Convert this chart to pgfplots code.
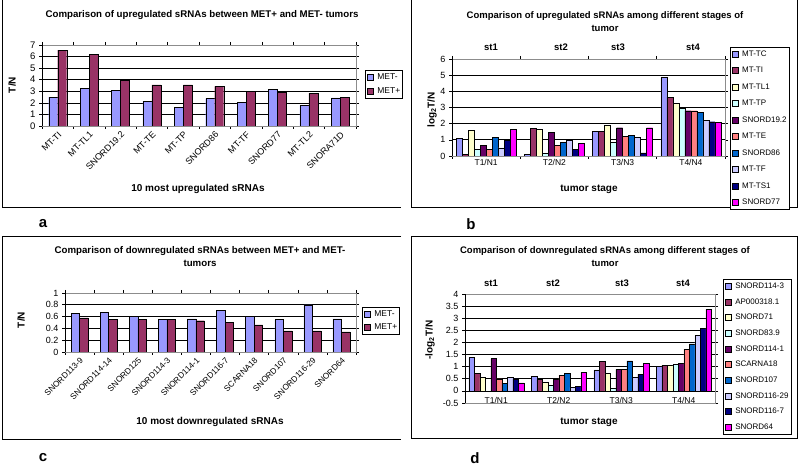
\documentclass[border=0pt]{standalone}
\usepackage{fontspec}
\setmainfont{Liberation Sans}
\usepackage{pgfplots}
\pgfplotsset{compat=1.18}

\definecolor{c1}{HTML}{9999FF}
\definecolor{c2}{HTML}{993366}
\definecolor{c3}{HTML}{FFFFCC}
\definecolor{c4}{HTML}{CCFFFF}
\definecolor{c5}{HTML}{660066}
\definecolor{c6}{HTML}{FF8080}
\definecolor{c7}{HTML}{0066CC}
\definecolor{c8}{HTML}{CCCCFF}
\definecolor{c9}{HTML}{000080}
\definecolor{c10}{HTML}{FF00FF}

\newcommand{\fsz}[1]{\fontsize{#1}{#1}\selectfont}

\pgfplotsset{
  excel/.style={
    scale only axis,
    anchor=south west,
    ybar=0pt,
    axis line style={black!45, line width=0.6pt},
    ymajorgrids,
    grid style={black, line width=0.7pt},
    tick align=outside,
    major tick length=3pt,
    tick style={black, line width=0.6pt},
    /pgf/number format/assume math mode=true,
    legend cell align=left,
    legend image code/.code={\draw[#1, draw=black, line width=0.4pt] (0pt,-3pt) rectangle (6pt,3pt);},
    every axis plot/.append style={draw=black, line width=0.4pt},
    legend style={draw=black, line width=0.7pt, fill=white, inner xsep=1.5pt, inner ysep=2pt,
      nodes={inner sep=1pt, text height=6pt, text depth=1.5pt},
      /tikz/every odd column/.append style={column sep=3pt}},
  }
}

\begin{document}
\begin{tikzpicture}
\useasboundingbox (0pt,0pt) rectangle (800pt,465pt);
\fill[white] (0pt,0pt) rectangle (800pt,465pt);
% frames
\draw[line width=0.8pt] (2pt,467pt) -- (2pt,258pt) -- (401pt,258pt);
\draw[line width=0.8pt] (411pt,467pt) -- (411pt,258pt) -- (797pt,258pt) -- (797pt,467pt);
\draw[line width=0.8pt] (401pt,229pt) -- (2pt,229pt) -- (2pt,26pt) -- (401pt,26pt);
\draw[line width=0.8pt] (411pt,229pt) rectangle (797pt,27pt);

% ---------------- Panel a ----------------
\begin{axis}[excel, at={(42pt,339pt)}, width=314pt, height=81pt,
  xmin=-0.5, xmax=9.5, ymin=0, ymax=7, ytick={0,1,...,7},
  bar width=9pt,
  xtick={-0.5,0.5,...,9.5}, xticklabels={},
  extra x ticks={0,1,...,9},
  extra x tick labels={MT-TI,MT-TL1,SNORD19.2,MT-TE,MT-TP,SNORD86,MT-TF,SNORD77,MT-TL2,SNORA71D},
  extra x tick style={major tick length=0pt, ticklabel style={rotate=45, anchor=north east, font=\fsz{9}}},
  yticklabel style={font=\fsz{9.5}},
  legend style={at={(1.029,0.691)}, anchor=north west, font=\fsz{8.5}, row sep=5pt},
]
\addplot[fill=c1] coordinates {(0,2.5) (1,3.26) (2,3.08) (3,2.12) (4,1.6) (5,2.36) (6,2.04) (7,3.17) (8,1.78) (9,2.44)};
\addplot[fill=c2] coordinates {(0,6.55) (1,6.17) (2,3.95) (3,3.56) (4,3.56) (5,3.42) (6,3.0) (7,2.91) (8,2.84) (9,2.5)};
\legend{MET-,MET+}
\draw[black, line width=0.6pt] (rel axis cs:0,0) -- (rel axis cs:0,1);
\draw[black, line width=0.6pt] (rel axis cs:0,0) -- (rel axis cs:1,0);
\end{axis}

% ---------------- Panel b ----------------
\begin{axis}[excel, at={(452pt,309pt)}, width=273pt, height=97pt,
  xmin=-0.5, xmax=3.5, ymin=0, ymax=6, ytick={0,1,...,6},
  bar width=6pt,
  xtick={-0.5,0.5,...,3.5}, xticklabels={},
  extra x ticks={0,1,2,3},
  extra x tick labels={T1/N1,T2/N2,T3/N3,T4/N4},
  extra x tick style={major tick length=0pt, ticklabel style={font=\fsz{8.5}}},
  yticklabel style={font=\fsz{9}},
  legend style={at={(1.018,1.124)}, anchor=north west, font=\fsz{8}, row sep=7pt},
]
\addplot[fill=c1] coordinates {(0,1.1) (1,0.1) (2,1.52) (3,4.85)};
\addplot[fill=c2] coordinates {(0,0.1) (1,1.7) (2,1.52) (3,3.62)};
\addplot[fill=c3] coordinates {(0,1.58) (1,1.63) (2,1.9) (3,3.25)};
\addplot[fill=c4] coordinates {(0,0.4) (1,0.15) (2,0.83) (3,2.96)};
\addplot[fill=c5] coordinates {(0,0.67) (1,1.48) (2,1.75) (3,2.8)};
\addplot[fill=c6] coordinates {(0,0.4) (1,0.67) (2,1.2) (3,2.8)};
\addplot[fill=c7] coordinates {(0,1.15) (1,0.83) (2,1.27) (3,2.7)};
\addplot[fill=c8] coordinates {(0,0.5) (1,0.96) (2,1.15) (3,2.2)};
\addplot[fill=c9] coordinates {(0,0.98) (1,0.4) (2,0.2) (3,2.12)};
\addplot[fill=c10] coordinates {(0,1.65) (1,0.77) (2,1.75) (3,2.08)};
\legend{MT-TC,MT-TI,MT-TL1,MT-TP,SNORD19.2,MT-TE,SNORD86,MT-TF,MT-TS1,SNORD77}
\draw[black, line width=0.6pt] (rel axis cs:0,0) -- (rel axis cs:0,1);
\draw[black, line width=0.6pt] (rel axis cs:0,0) -- (rel axis cs:1,0);
\end{axis}

% ---------------- Panel c ----------------
\begin{axis}[excel, at={(65pt,113pt)}, width=291pt, height=59pt,
  xmin=-0.5, xmax=9.5, ymin=0, ymax=1, ytick={0,0.2,0.4,0.6,0.8,1},
  yticklabels={0,0.2,0.4,0.6,0.8,1},
  bar width=8.5pt,
  xtick={-0.5,0.5,...,9.5}, xticklabels={},
  extra x ticks={0,1,...,9},
  extra x tick labels={SNORD113-9,SNORD114-14,SNORD125,SNORD114-3,SNORD114-1,SNORD116-7,SCARNA18,SNORD107,SNORD116-29,SNORD64},
  extra x tick style={major tick length=0pt, ticklabel style={rotate=45, anchor=north east, font=\fsz{8.3}}},
  yticklabel style={font=\fsz{9}},
  legend style={at={(1.021,0.763)}, anchor=north west, font=\fsz{8.5}, row sep=4pt},
]
\addplot[fill=c1] coordinates {(0,0.65) (1,0.67) (2,0.6) (3,0.55) (4,0.56) (5,0.71) (6,0.6) (7,0.55) (8,0.8) (9,0.56)};
\addplot[fill=c2] coordinates {(0,0.58) (1,0.55) (2,0.55) (3,0.55) (4,0.53) (5,0.5) (6,0.46) (7,0.36) (8,0.36) (9,0.34)};
\legend{MET-,MET+}
\draw[black, line width=0.6pt] (rel axis cs:0,0) -- (rel axis cs:0,1);
\draw[black, line width=0.6pt] (rel axis cs:0,0) -- (rel axis cs:1,0);
\end{axis}

% ---------------- Panel d ----------------
\begin{axis}[excel, at={(465pt,62pt)}, width=250pt, height=109pt,
  xmin=-0.5, xmax=3.5, ymin=-0.5, ymax=4, ytick={-0.5,0,0.5,...,4},
  yticklabels={-0.5,0,0.5,1,1.5,2,2.5,3,3.5,4},
  bar width=5.5pt,
  xtick={0,1,2,3}, xticklabels={T1/N1,T2/N2,T3/N3,T4/N4},
  xtick style={draw=none},
  xticklabel style={font=\fsz{8.5}, yshift=12pt},
  yticklabel style={font=\fsz{9}},
  legend style={at={(1.032,1.138)}, anchor=north west, font=\fsz{8}, row sep=6.2pt},
]
\addplot[fill=c1] coordinates {(0,1.38) (1,0.6) (2,0.87) (3,1.02)};
\addplot[fill=c2] coordinates {(0,0.72) (1,0.47) (2,1.21) (3,1.06)};
\addplot[fill=c3] coordinates {(0,0.56) (1,0.36) (2,0.73) (3,1.06)};
\addplot[fill=c4] coordinates {(0,0) (1,0.22) (2,0.11) (3,1.1)};
\addplot[fill=c5] coordinates {(0,1.33) (1,0.47) (2,0.89) (3,1.14)};
\addplot[fill=c6] coordinates {(0,0.5) (1,0.65) (2,0.89) (3,1.72)};
\addplot[fill=c7] coordinates {(0,0.32) (1,0.73) (2,1.24) (3,1.94)};
\addplot[fill=c8] coordinates {(0,0.55) (1,0.15) (2,0.55) (3,2.28)};
\addplot[fill=c9] coordinates {(0,0.5) (1,0.19) (2,0.69) (3,2.59)};
\addplot[fill=c10] coordinates {(0,0.33) (1,0.76) (2,1.14) (3,3.36)};
\legend{SNORD114-3,AP000318.1,SNORD71,SNORD83.9,SNORD114-1,SCARNA18,SNORD107,SNORD116-29,SNORD116-7,SNORD64}
\draw[black, line width=0.6pt] (rel axis cs:0,0) -- (rel axis cs:0,1);
\end{axis}

% ---------------- Texts ----------------
\node[font=\bfseries\fsz{9.7}] at (202pt,450pt) {Comparison of upregulated sRNAs between MET+ and MET- tumors};
\node[font=\bfseries\fontsize{9.5}{13}\selectfont, align=center] at (605pt,443.5pt) {Comparison of upregulated sRNAs among different stages of\\tumor};
\node[font=\bfseries\fontsize{9.7}{13}\selectfont, align=center] at (200pt,208.5pt) {Comparison of downregulated sRNAs between MET+ and MET-\\tumors};
\node[font=\bfseries\fontsize{9.5}{13}\selectfont, align=center] at (605pt,208.5pt) {Comparison of downregulated sRNAs among different stages of\\tumor};

\foreach \x/\t in {491/st1,561/st2,618/st3,693/st4} \node[font=\bfseries\fsz{9.5}] at (\x pt,418pt) {\t};
\foreach \x/\t in {491/st1,553/st2,622/st3,683/st4} \node[font=\bfseries\fsz{9.5}] at (\x pt,182pt) {\t};

\node[font=\bfseries\fsz{10}] at (198pt,276pt) {10 most upregulated sRNAs};
\node[font=\bfseries\fsz{10}] at (589pt,276pt) {tumor stage};
\node[font=\bfseries\fsz{10}] at (210pt,43pt) {10 most downregulated sRNAs};
\node[font=\bfseries\fsz{10}] at (589pt,43pt) {tumor stage};

\node[font=\bfseries\fsz{10}, rotate=90] at (12pt,380pt) {T/N};
\node[font=\bfseries\fsz{10}, rotate=90] at (432pt,355pt) {log\textsubscript{2}T/N};
\node[font=\bfseries\fsz{10}, rotate=90] at (21pt,145pt) {T/N};
\node[font=\bfseries\fsz{10}, rotate=90] at (430pt,125pt) {-log\textsubscript{2}T/N};

\node[font=\bfseries\fsz{15}] at (43pt,241pt) {a};
\node[font=\bfseries\fsz{15}] at (471pt,241pt) {b};
\node[font=\bfseries\fsz{15}] at (43pt,7pt) {c};
\node[font=\bfseries\fsz{15}] at (475pt,7pt) {d};
\end{tikzpicture}
\end{document}
